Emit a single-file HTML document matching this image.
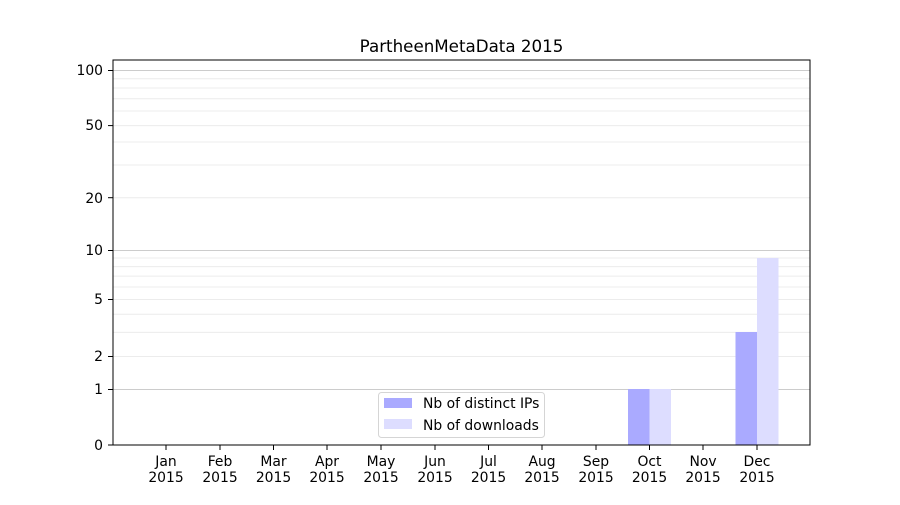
<!DOCTYPE html>
<html><head><meta charset="utf-8"><style>body{margin:0;background:#fff}</style></head><body>
<svg width="900" height="500" xmlns="http://www.w3.org/2000/svg" font-family="DejaVu Sans, sans-serif">
<rect width="900" height="500" fill="#fff"/>
<g stroke="#ececec" stroke-width="1">
<line x1="113" x2="810" y1="356.5" y2="356.5"/><line x1="113" x2="810" y1="332.4" y2="332.4"/><line x1="113" x2="810" y1="314.3" y2="314.3"/><line x1="113" x2="810" y1="299.5" y2="299.5"/><line x1="113" x2="810" y1="287" y2="287"/><line x1="113" x2="810" y1="276.1" y2="276.1"/><line x1="113" x2="810" y1="266.6" y2="266.6"/><line x1="113" x2="810" y1="258" y2="258"/>
<line x1="113" x2="810" y1="197.7" y2="197.7"/><line x1="113" x2="810" y1="165" y2="165"/><line x1="113" x2="810" y1="142" y2="142"/><line x1="113" x2="810" y1="125.6" y2="125.6"/><line x1="113" x2="810" y1="111" y2="111"/><line x1="113" x2="810" y1="98.7" y2="98.7"/><line x1="113" x2="810" y1="88" y2="88"/><line x1="113" x2="810" y1="78.7" y2="78.7"/>
</g>
<g stroke="#cccccc" stroke-width="1">
<line x1="113" x2="810" y1="389.5" y2="389.5"/><line x1="113" x2="810" y1="250.5" y2="250.5"/><line x1="113" x2="810" y1="70.5" y2="70.5"/>
</g>
<rect x="628" y="389" width="21.5" height="56" fill="#aaaaff"/>
<rect x="649.5" y="389" width="21.5" height="56" fill="#ddddff"/>
<rect x="735.5" y="332" width="21.5" height="113" fill="#aaaaff"/>
<rect x="757" y="258" width="21.5" height="187" fill="#ddddff"/>
<rect x="113" y="60" width="697" height="385" fill="none" stroke="#000" stroke-width="1"/>
<g font-size="13.9" text-anchor="end" fill="#000">
<text x="103" y="450">0</text><text x="103" y="394">1</text><text x="103" y="361">2</text><text x="103" y="304">5</text><text x="103" y="255">10</text><text x="103" y="203">20</text><text x="103" y="130">50</text><text x="103" y="75">100</text>
</g>
<g stroke="#000"><line x1="108" x2="113" y1="445" y2="445"/><line x1="108" x2="113" y1="389.5" y2="389.5"/><line x1="108" x2="113" y1="356.5" y2="356.5"/><line x1="108" x2="113" y1="299.5" y2="299.5"/><line x1="108" x2="113" y1="250.5" y2="250.5"/><line x1="108" x2="113" y1="197.7" y2="197.7"/><line x1="108" x2="113" y1="125.6" y2="125.6"/><line x1="108" x2="113" y1="70.5" y2="70.5"/></g>
<g font-size="13.9" text-anchor="middle" fill="#000">
<text x="166" y="466">Jan</text><text x="166" y="482">2015</text>
<text x="220" y="466">Feb</text><text x="220" y="482">2015</text>
<text x="273.5" y="466">Mar</text><text x="273.5" y="482">2015</text>
<text x="327" y="466">Apr</text><text x="327" y="482">2015</text>
<text x="381" y="466">May</text><text x="381" y="482">2015</text>
<text x="435" y="466">Jun</text><text x="435" y="482">2015</text>
<text x="488.5" y="466">Jul</text><text x="488.5" y="482">2015</text>
<text x="542" y="466">Aug</text><text x="542" y="482">2015</text>
<text x="596" y="466">Sep</text><text x="596" y="482">2015</text>
<text x="649.5" y="466">Oct</text><text x="649.5" y="482">2015</text>
<text x="703" y="466">Nov</text><text x="703" y="482">2015</text>
<text x="757" y="466">Dec</text><text x="757" y="482">2015</text>
</g>
<g stroke="#000"><line x1="166" x2="166" y1="445" y2="450"/><line x1="220" x2="220" y1="445" y2="450"/><line x1="273.5" x2="273.5" y1="445" y2="450"/><line x1="327" x2="327" y1="445" y2="450"/><line x1="381" x2="381" y1="445" y2="450"/><line x1="435" x2="435" y1="445" y2="450"/><line x1="488.5" x2="488.5" y1="445" y2="450"/><line x1="542" x2="542" y1="445" y2="450"/><line x1="596" x2="596" y1="445" y2="450"/><line x1="649.5" x2="649.5" y1="445" y2="450"/><line x1="703" x2="703" y1="445" y2="450"/><line x1="757" x2="757" y1="445" y2="450"/></g>
<text x="461.5" y="52" font-size="16.7" text-anchor="middle">PartheenMetaData 2015</text>
<rect x="378.5" y="392.5" width="166" height="45" rx="3" fill="#fff" fill-opacity="0.8" stroke="#d5d5d5"/>
<rect x="384" y="398" width="28" height="10" fill="#aaaaff"/>
<rect x="384" y="419" width="28" height="10" fill="#ddddff"/>
<text x="423" y="408" font-size="13.9">Nb of distinct IPs</text>
<text x="423" y="430" font-size="13.9">Nb of downloads</text>
</svg>
</body></html>
